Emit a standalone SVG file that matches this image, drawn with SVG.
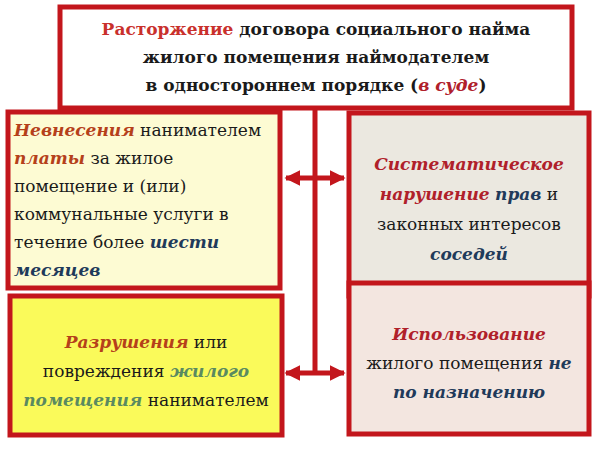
<svg xmlns="http://www.w3.org/2000/svg" width="600" height="449" viewBox="0 0 600 449">
<style>
.b{stroke:#c3161c;stroke-width:5}
text{font-family:'DejaVu Serif',serif;font-size:17px;fill:#1a1a1a}
.h{font-weight:bold;font-size:17px}
.r{fill:#b0202a;font-style:italic;font-weight:bold}
.o{fill:#b5401a;font-style:italic;font-weight:bold}
.n{fill:#1f3a5a;font-style:italic;font-weight:bold}
.g{fill:#5a8a60;font-style:italic;font-weight:bold}
.c{fill:#c9302c;font-weight:bold}
</style>
<defs>
<marker id="a" viewBox="0 0 10 10" refX="9" refY="5" markerWidth="3.2" markerHeight="3.2" orient="auto-start-reverse"><path d="M0,0L10,5L0,10z" fill="#c3161c"/></marker>
</defs>
<rect width="600" height="449" fill="#fff"/>
<g id="connectors" stroke="#c3161c" stroke-width="5" fill="none">
<line x1="315" y1="108" x2="315" y2="373"/>
<line x1="286" y1="178" x2="344" y2="178" marker-start="url(#a)" marker-end="url(#a)"/>
<line x1="286" y1="373" x2="344" y2="373" marker-start="url(#a)" marker-end="url(#a)"/>
</g>
<g id="top">
<rect class="b" x="60" y="7" width="512" height="101" fill="#fff"/>
<text class="h" x="316" y="35" text-anchor="middle"><tspan class="c">Расторжение</tspan> договора социального найма</text>
<text class="h" x="316" y="63" text-anchor="middle">жилого помещения наймодателем</text>
<text class="h" x="316" y="91" text-anchor="middle">в одностороннем порядке (<tspan class="r">в суде</tspan>)</text>
</g>
<g id="n1">
<rect class="b" x="8" y="112" width="272" height="176" fill="#fdfbd3"/>
<text x="14" y="136"><tspan class="o">Невнесения</tspan> нанимателем</text>
<text x="14" y="164"><tspan class="o">платы</tspan> за жилое</text>
<text x="14" y="192">помещение и (или)</text>
<text x="14" y="220">коммунальные услуги в</text>
<text x="14" y="248">течение более <tspan class="n">шести</tspan></text>
<text x="14" y="276"><tspan class="n">месяцев</tspan></text>
</g>
<g id="n2">
<rect class="b" x="349" y="113" width="240" height="183" fill="#ebe8e0"/>
<text x="469" y="170" text-anchor="middle" class="r">Систематическое</text>
<text x="469" y="200" text-anchor="middle"><tspan class="r">нарушение</tspan> <tspan class="n">прав</tspan> и</text>
<text x="469" y="230" text-anchor="middle">законных интересов</text>
<text x="469" y="260" text-anchor="middle" class="n">соседей</text>
</g>
<g id="n3">
<rect class="b" x="10" y="296" width="272" height="139" fill="#fafa5a"/>
<text x="146" y="348" text-anchor="middle"><tspan class="o">Разрушения</tspan> или</text>
<text x="146" y="377" text-anchor="middle">повреждения <tspan class="g">жилого</tspan></text>
<text x="146" y="406" text-anchor="middle"><tspan class="g">помещения</tspan> нанимателем</text>
</g>
<g id="n4">
<rect class="b" x="349" y="283" width="240" height="151" fill="#f3e6e0"/>
<text x="469" y="340" text-anchor="middle" class="r">Использование</text>
<text x="469" y="369" text-anchor="middle">жилого помещения <tspan class="n">не</tspan></text>
<text x="469" y="398" text-anchor="middle" class="n">по назначению</text>
</g>
</svg>
